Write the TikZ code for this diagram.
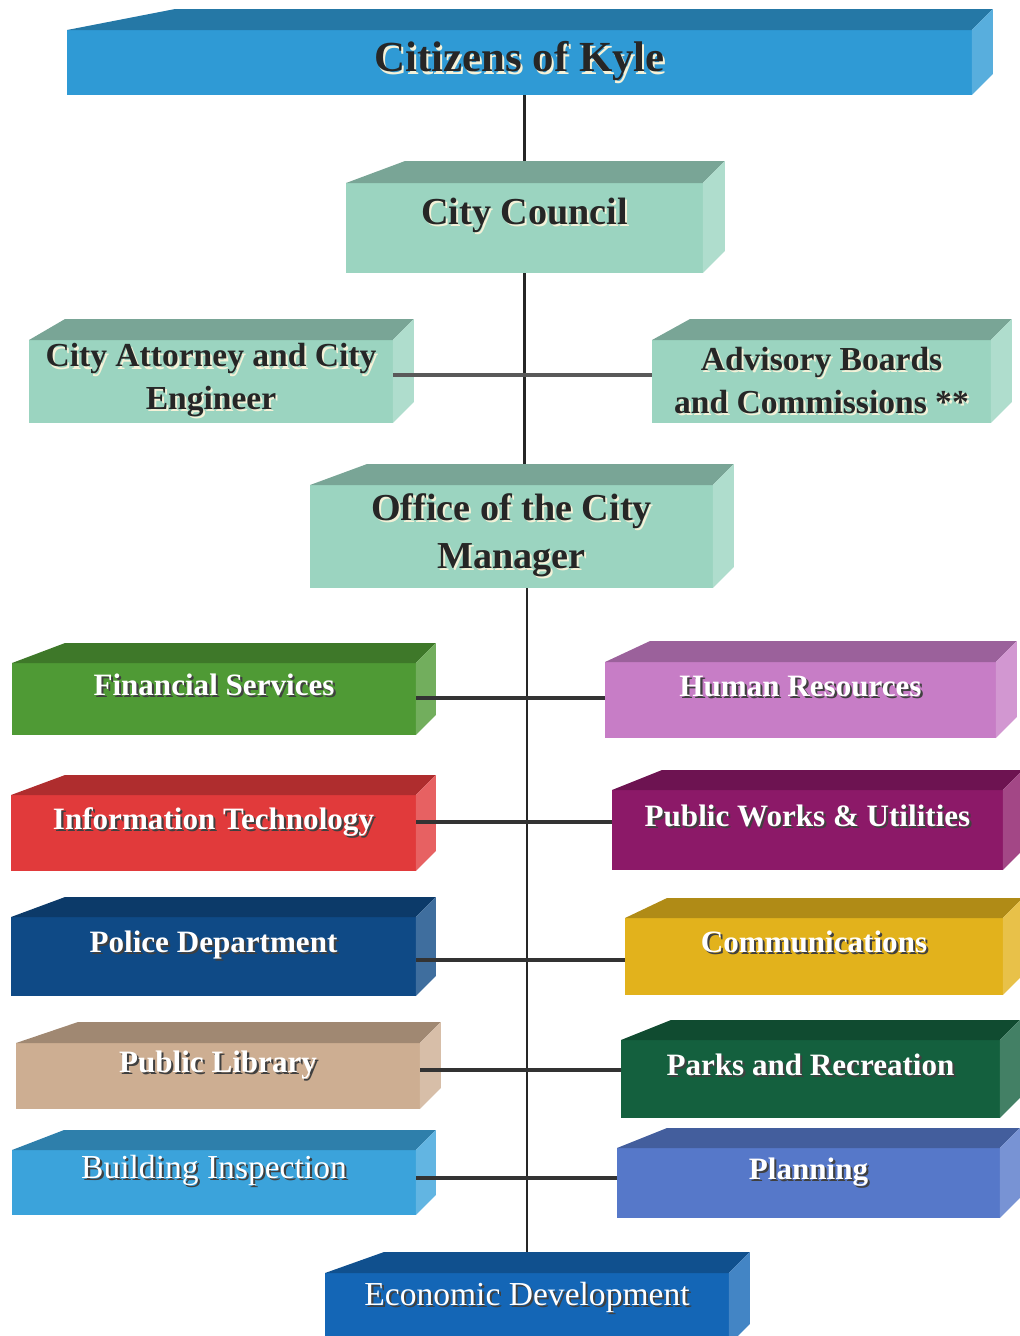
\documentclass[tikz,border=0pt]{standalone}
\usepackage{fontspec}
\setmainfont{Liberation Serif}
\usetikzlibrary{backgrounds}
\usepackage{xcolor}

\definecolor{citblue}{HTML}{2F9AD5}
\definecolor{mint}{HTML}{9BD4C0}
\definecolor{fingreen}{HTML}{4F9A35}
\definecolor{hrpink}{HTML}{C77DC6}
\definecolor{itred}{HTML}{E13A3B}
\definecolor{pwpurple}{HTML}{8C1968}
\definecolor{polnavy}{HTML}{0F4A86}
\definecolor{commgold}{HTML}{E2B21C}
\definecolor{libtan}{HTML}{CDAE92}
\definecolor{parksgreen}{HTML}{14603E}
\definecolor{bldgblue}{HTML}{3BA3DB}
\definecolor{planblue}{HTML}{5678C9}
\definecolor{econblue}{HTML}{1466B6}
\definecolor{lightshd}{HTML}{F4F1D8}

% top and right faces of a block: node, colour, top slant, depth
\newcommand{\blockfaces}[4]{%
  \fill[#2!78!black] (#1.north west) -- ++(#3,-#4) -- ([shift={(#4,-#4)}]#1.north east) -- (#1.north east) -- cycle;
  \fill[#2!80!white] (#1.north east) -- ++(#4,-#4) -- ([shift={(#4,-#4)}]#1.south east) -- (#1.south east) -- cycle;
}
% text with a drop shadow
\newcommand{\shd}[2][black!75]{\leavevmode\rlap{\kern1.2pt\raisebox{-1.2pt}{\textcolor{#1}{#2}}}#2}

\tikzset{
  upper/.style={fill=#1, inner sep=0pt, outer sep=0pt, align=center, text=black!85,
    font=\bfseries\fontsize{19.1}{24.4}\selectfont},
  dept/.style={fill=#1, inner sep=0pt, outer sep=0pt, text=white,
    font=\bfseries\fontsize{17.7}{21}\selectfont},
  raised/.style={text height=0.4cm, text depth=0.56cm},
  plain/.style={font=\fontsize{19.1}{23}\selectfont},
  trunk/.style={draw=black!85, line width=1.4pt},
  tie/.style={draw=black!65, line width=2pt},
  branch/.style={draw=black!80, line width=2.3pt}
}

\begin{document}
\begin{tikzpicture}[x=0.02cm, y=-0.02cm]
  \useasboundingbox (0,0) rectangle (1020,1336);

  % Top of the chart
  \node (cit) [upper=citblue, minimum width=18.1cm, minimum height=1.3cm,
    font=\bfseries\fontsize{24.4}{28}\selectfont] at (519.5,62.5) {\shd[lightshd]{Citizens of Kyle}};
  \blockfaces{cit}{citblue}{108}{21}
  \node (council) [upper=mint, minimum width=7.14cm, minimum height=1.8cm, raised,
    font=\bfseries\fontsize{21.7}{26}\selectfont] at (524.5,228) {\shd[lightshd]{City Council}};
  \blockfaces{council}{mint}{59}{22}
  \node (atty) [upper=mint, minimum width=7.28cm, minimum height=1.66cm] at (211,381.5)
    {\shd[lightshd]{City Attorney and City}\\\shd[lightshd]{Engineer}};
  \blockfaces{atty}{mint}{36}{21}
  \node (adv) [upper=mint, minimum width=6.78cm, minimum height=1.66cm] at (821.5,381.5)
    {\shd[lightshd]{Advisory Boards}\\\shd[lightshd]{and Commissions **}};
  \blockfaces{adv}{mint}{38}{21}
  \node (mgr) [upper=mint, minimum width=8.06cm, minimum height=2.06cm,
    font=\bfseries\fontsize{21.7}{27.2}\selectfont] at (511.5,536.5)
    {\shd[lightshd]{Office of the City}\\\shd[lightshd]{Manager}};
  \blockfaces{mgr}{mint}{57}{21}

  % Departments, left column
  \node (fin) [dept=fingreen, minimum width=8.08cm, minimum height=1.44cm, raised] at (214,699) {\shd{Financial Services}};
  \blockfaces{fin}{fingreen}{53}{20}
  \node (it) [dept=itred, minimum width=8.1cm, minimum height=1.52cm, raised] at (213.5,833) {\shd{Information Technology}};
  \blockfaces{it}{itred}{54}{20}
  \node (pol) [dept=polnavy, minimum width=8.1cm, minimum height=1.58cm, raised] at (213.5,956.5) {\shd{Police Department}};
  \blockfaces{pol}{polnavy}{54}{20}
  \node (lib) [dept=libtan, minimum width=8.08cm, minimum height=1.32cm, raised] at (218,1076) {\shd{Public Library}};
  \blockfaces{lib}{libtan}{62}{21}
  \node (bldg) [dept=bldgblue, plain, minimum width=8.08cm, minimum height=1.3cm, raised] at (214,1182.5) {\shd{Building Inspection}};
  \blockfaces{bldg}{bldgblue}{52}{20}

  % Departments, right column
  \node (hr) [dept=hrpink, minimum width=7.82cm, minimum height=1.52cm, raised] at (800.5,700) {\shd{Human Resources}};
  \blockfaces{hr}{hrpink}{45}{21}
  \node (pw) [dept=pwpurple, minimum width=7.82cm, minimum height=1.6cm, raised] at (807.5,830) {\shd{Public Works \& Utilities}};
  \blockfaces{pw}{pwpurple}{50}{20}
  \node (comm) [dept=commgold, minimum width=7.56cm, minimum height=1.54cm, raised] at (814,956.5) {\shd{Communications}};
  \blockfaces{comm}{commgold}{42}{20}
  \node (parks) [dept=parksgreen, minimum width=7.58cm, minimum height=1.56cm, raised] at (810.5,1079) {\shd{Parks and Recreation}};
  \blockfaces{parks}{parksgreen}{50}{20}
  \node (plan) [dept=planblue, minimum width=7.66cm, minimum height=1.4cm, raised] at (808.5,1183) {\shd{Planning}};
  \blockfaces{plan}{planblue}{50}{20}

  % Bottom block
  \node (econ) [dept=econblue, plain, minimum width=8.08cm, minimum height=1.44cm, raised] at (527,1309) {\shd{Economic Development}};
  \blockfaces{econ}{econblue}{59}{21}

  % Vertical lines behind the blocks
  \begin{pgfonlayer}{background}
    \draw[trunk] (council.north) -- (council.north |- cit.south);
    \draw[trunk] (council.south) -- (council.south |- mgr.north);
    \draw[trunk] (econ.north) -- (econ.north |- mgr.south);
  \end{pgfonlayer}

  % Cross lines
  \draw[tie] ([yshift=3.7pt]atty.east) -- ([yshift=3.7pt]adv.west);
  \draw[branch] ([yshift=1.1pt]hr.west) -- ([yshift=1.1pt]hr.west -| fin.east);
  \draw[branch] ([yshift=4.5pt]pw.west) -- ([yshift=4.5pt]pw.west -| it.east);
  \draw[branch] ([yshift=-2pt]comm.west) -- ([yshift=-2pt]comm.west -| pol.east);
  \draw[branch] ([yshift=5.1pt]parks.west) -- ([yshift=5.1pt]parks.west -| lib.east);
  \draw[branch] ([yshift=2.8pt]plan.west) -- ([yshift=2.8pt]plan.west -| bldg.east);
\end{tikzpicture}
\end{document}
